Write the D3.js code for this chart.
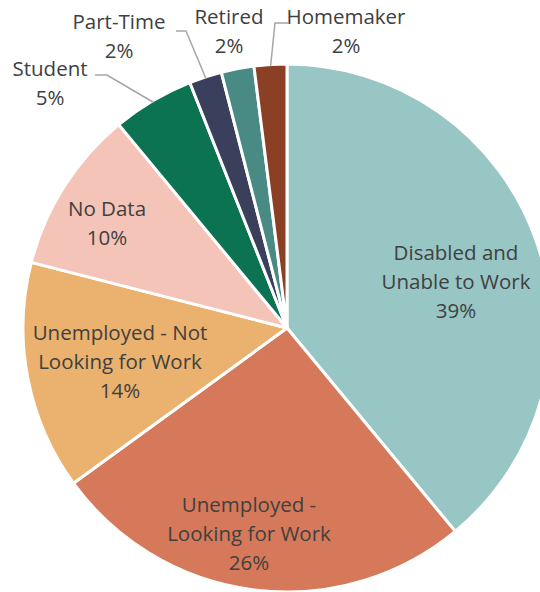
<!DOCTYPE html>
<html>
<head>
<meta charset="utf-8">
<script src="https://cdn.jsdelivr.net/npm/d3@7"></script>
<style>
  html, body { margin: 0; padding: 0; background: #fff; }
  svg { display: block; }
</style>
</head>
<body>
<div id="chart"></div>
<script>
// data
var categories = [
  "Disabled and Unable to Work",
  "Unemployed - Looking for Work",
  "Unemployed - Not Looking for Work",
  "No Data",
  "Student",
  "Part-Time",
  "Retired",
  "Homemaker"
];
var values = [39, 26, 14, 10, 5, 2, 2, 2];
var labelLines = [
  ["Disabled and", "Unable to Work"],
  ["Unemployed -", "Looking for Work"],
  ["Unemployed - Not", "Looking for Work"],
  ["No Data"],
  ["Student"],
  ["Part-Time"],
  ["Retired"],
  ["Homemaker"]
];
var colors = ["#98c6c4", "#d5795a", "#eab26e", "#f5c4b8", "#0b7252", "#3a3f5c", "#4a8a85", "#8b4026"];

// label layout (top baseline of each block) + leader lines
var labelPos = [
  [456, 260], [249, 512], [120, 340], [107, 216],
  [50, 76], [119, 29], [229, 24], [346, 24]
];
var leaders = {
  4: [[95, 75], [107, 75]],
  5: [[176, 31], [186, 31]],
  7: [[288, 23], [275, 23]]
};

var width = 540, height = 592;
var cx = 287, cy = 328, radius = 264;
var lineH = 29;

var svg = d3.select("#chart").append("svg")
  .attr("width", width)
  .attr("height", height);

var color = d3.scaleOrdinal().domain(categories).range(colors);

var pie = d3.pie().sort(null).value(function (d) { return d.value; });
var arc = d3.arc().innerRadius(0).outerRadius(radius);

var data = categories.map(function (c, i) { return { name: c, value: values[i], i: i }; });
var arcs = pie(data);

var g = svg.append("g").attr("transform", "translate(" + cx + "," + cy + ")");

g.selectAll("path.slice")
  .data(arcs)
  .enter().append("path")
  .attr("class", "slice")
  .attr("d", arc)
  .attr("fill", function (d) { return color(d.data.name); })
  .attr("stroke", "#fff")
  .attr("stroke-width", 3)
  .attr("stroke-linejoin", "round");

// leader lines: horizontal stub then to the slice edge
var edgeArc = d3.arc().innerRadius(radius - 2).outerRadius(radius - 2);
Object.keys(leaders).forEach(function (k) {
  var a = arcs[+k];
  var pts = leaders[k].slice();
  var c = edgeArc.centroid(a);
  pts.push([c[0] + cx, c[1] + cy]);
  svg.append("polyline")
    .attr("points", pts.map(function (p) { return p.join(","); }).join(" "))
    .attr("fill", "none")
    .attr("stroke", "#a6a6a6")
    .attr("stroke-width", 1.5);
});

// labels
arcs.forEach(function (a, i) {
  var lines = labelLines[i].concat([values[i] + "%"]);
  var t = svg.append("text")
    .attr("x", labelPos[i][0])
    .attr("y", labelPos[i][1])
    .attr("text-anchor", "middle")
    .attr("fill", "#404040")
    .style("font-family", "'Open Sans', sans-serif")
    .style("font-size", "20.5px");
  lines.forEach(function (l, j) {
    t.append("tspan")
      .attr("x", labelPos[i][0])
      .attr("dy", j === 0 ? 0 : lineH)
      .text(l);
  });
});
</script>
</body>
</html>
